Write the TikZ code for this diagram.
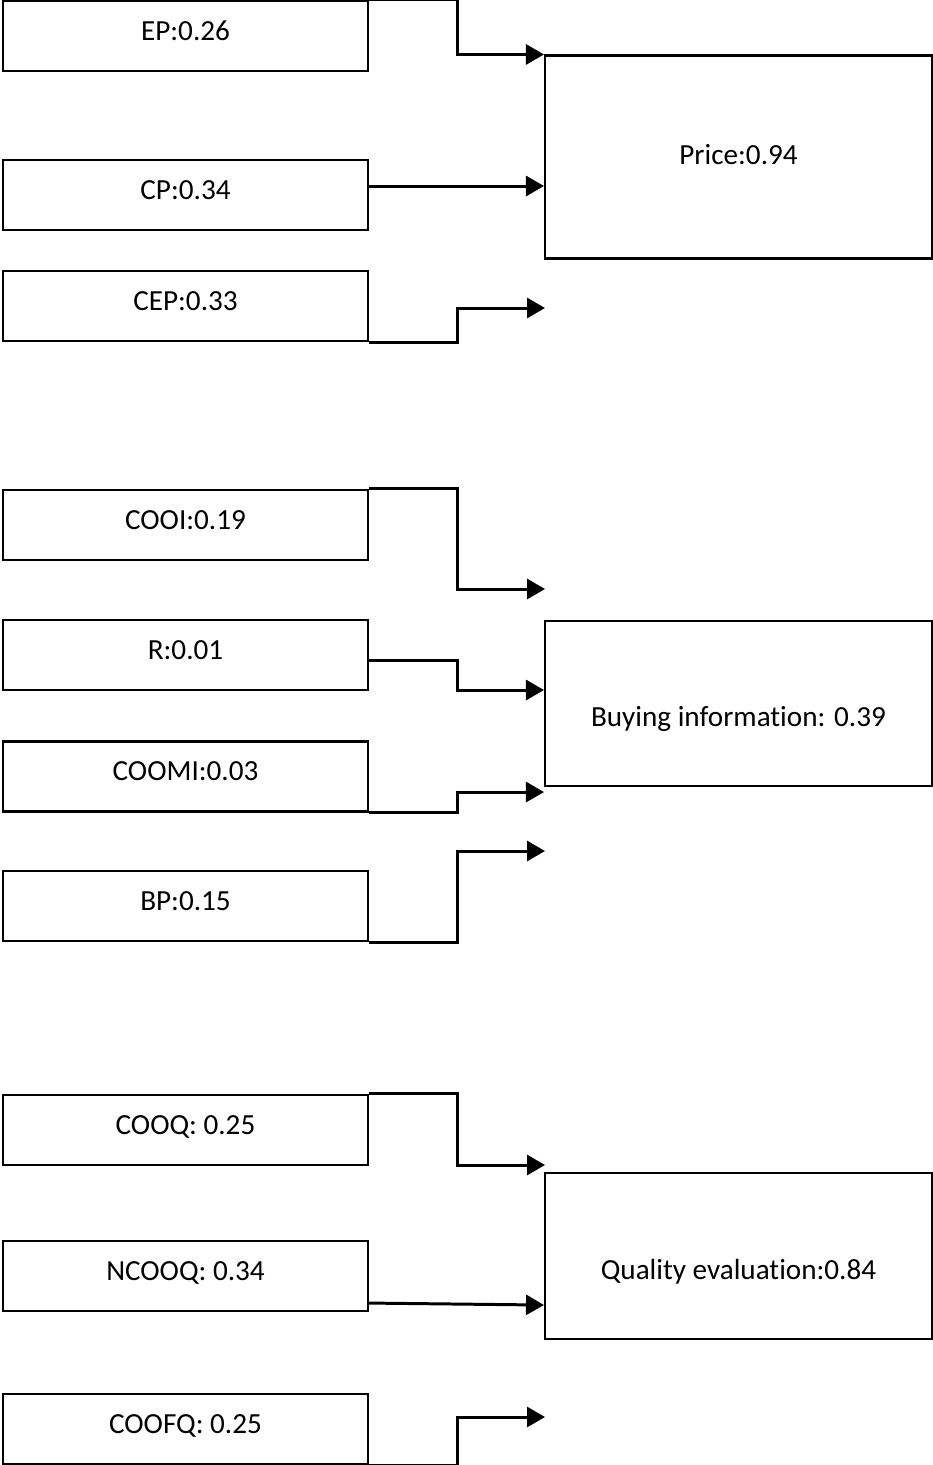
\documentclass[tikz,border=0pt]{standalone}
\usepackage{fontspec}
\setmainfont[Ligatures=NoCommon]{Carlito}
\usetikzlibrary{positioning,calc,arrows.meta}

\begin{document}
\begin{tikzpicture}[
        x=0.02cm, y=-0.02cm,
        font=\fontsize{16.6}{20}\selectfont,
        lbox/.style={draw, line width=1.2pt, minimum width=7.3cm, minimum height=1.4cm, inner sep=0pt, text height=11pt, text depth=5.9pt},
        rbox/.style={draw, line width=1.2pt, minimum width=7.74cm, inner sep=0pt, text depth=3.5pt},
        arr/.style={line width=1.7pt, -{Triangle[length=0.36cm, width=0.4cm]}}
        ]
        \useasboundingbox (0,0) rectangle (933,1465);
        % Nodes
        \node (ep) [lbox] at (185.5,36) {EP:0.26};
        \node (cp) [lbox] at (185.5,195) {CP:0.34};
        \node (cep) [lbox] at (185.5,306) {CEP:0.33};
        \node (cooi) [lbox] at (185.5,525) {COOI:0.19};
        \node (r) [lbox] at (185.5,655) {R:0.01};
        \node (coomi) [lbox] at (185.5,776.5) {COOMI:0.03};
        \node (bp) [lbox] at (185.5,906) {BP:0.15};
        \node (cooq) [lbox] at (185.5,1130) {COOQ: 0.25};
        \node (ncooq) [lbox] at (185.5,1276) {NCOOQ: 0.34};
        \node (coofq) [lbox] at (185.5,1429) {COOFQ: 0.25};

        \node (price) [rbox, minimum height=4.06cm, text height=12pt] at (738.5,157) {Price:0.94};
        \node (buy) [rbox, minimum height=3.3cm, text height=30pt] at (738.5,703.5) {Buying information: 0.39};
        \node (qual) [rbox, minimum height=3.32cm, text height=30pt] at (738.5,1256) {Quality evaluation:0.84};

        % Free arrow ends
        \coordinate (cepend) at (545,308);
        \coordinate (cooiend) at (545,589);
        \coordinate (bpend) at (545,851);
        \coordinate (cooqend) at (545,1165);
        \coordinate (coofqend) at (545,1417);

        % Arrows
        \draw[arr] (ep.north east) -- ++(88,0) |- (price.north west);
        \draw[arr] ($(cp.east)+(0,-9)$) coordinate (cpout) -- (cpout -| price.west);
        \draw[arr] (cep.south east) -- ++(88,0) |- (cepend);
        \draw[arr] (cooi.north east) -- ++(88,0) |- (cooiend);
        \draw[arr] ($(r.east)+(0,5)$) -- ++(88,0) |- ($(buy.west)+(0,-13.5)$);
        \draw[arr] (coomi.south east) -- ++(88,0) |- ($(buy.south west)+(0,5)$);
        \draw[arr] (bp.south east) -- ++(88,0) |- (bpend);
        \draw[arr] (cooq.north east) -- ++(88,0) |- (cooqend);
        \draw[arr] ($(ncooq.south east)+(0,-9)$) -- ($(qual.south west)+(0,-35)$);
        \draw[arr] (coofq.south east) -- ++(88,0) |- (coofqend);
    \end{tikzpicture}
\end{document}
